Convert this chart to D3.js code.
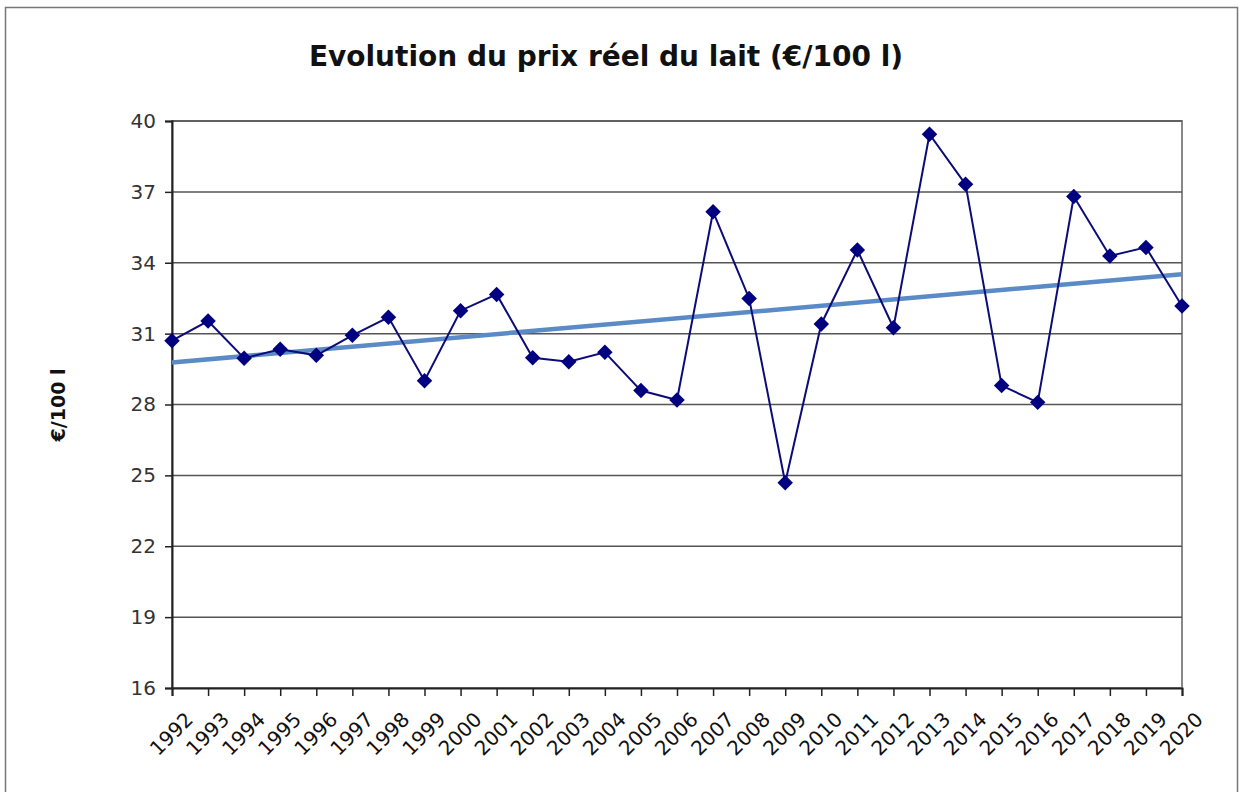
<!DOCTYPE html>
<html>
<head>
<meta charset="utf-8">
<script src="https://cdn.jsdelivr.net/npm/d3@7"></script>
<style>
  html, body { margin: 0; padding: 0; background: #fff; }
  svg { display: block; }
</style>
</head>
<body>
<svg id="chart" width="1243" height="792"></svg>
<script>
const years = [1992,1993,1994,1995,1996,1997,1998,1999,2000,2001,2002,2003,2004,2005,2006,2007,2008,2009,2010,2011,2012,2013,2014,2015,2016,2017,2018,2019,2020];
const prices = [30.70,31.53,29.96,30.34,30.08,30.93,31.69,29.01,31.97,32.66,29.98,29.81,30.21,28.59,28.19,36.16,32.49,24.69,31.41,34.54,31.25,39.44,37.32,28.80,28.09,36.80,34.29,34.65,32.17];
const yTicks = [16,19,22,25,28,31,34,37,40];
const title = "Evolution du prix réel du lait (€/100 l)";
const yLabel = "€/100 l";

const svg = d3.select("#chart");
const plot = {left: 172, right: 1182, top: 121, bottom: 688};
const font = "DejaVu Sans, Verdana, sans-serif";

// outer border
svg.append("rect").attr("x", 5.5).attr("y", 7.5).attr("width", 1232).attr("height", 800)
  .attr("fill", "#fff").attr("stroke", "#777").attr("stroke-width", 1.5);

const x = d3.scalePoint().domain(years).range([plot.left, plot.right]);
const y = d3.scaleLinear().domain([16, 40]).range([plot.bottom, plot.top]);

// plot area border
svg.append("rect").attr("x", plot.left).attr("y", plot.top)
  .attr("width", plot.right - plot.left).attr("height", plot.bottom - plot.top)
  .attr("fill", "none").attr("stroke", "#888").attr("stroke-width", 2);

// gridlines
svg.append("g").selectAll("line").data(yTicks.filter(t => t > 16)).join("line")
  .attr("x1", plot.left).attr("x2", plot.right)
  .attr("y1", d => y(d)).attr("y2", d => y(d))
  .attr("stroke", "#555").attr("stroke-width", 1.5);

// y axis
const yAxis = d3.axisLeft(y).tickValues(yTicks).tickSize(7).tickPadding(9).tickFormat(d3.format("d"));
const gy = svg.append("g").attr("transform", `translate(${plot.left},0)`).call(yAxis);
gy.select(".domain").attr("stroke", "#222").attr("stroke-width", 2);
gy.selectAll(".tick line").attr("stroke", "#222").attr("stroke-width", 1.5);
gy.selectAll(".tick text").attr("font-family", font)
  .attr("font-size", 20).attr("fill", "#333");

// x axis
const xAxis = d3.axisBottom(x).tickSize(8).tickPadding(6);
const gx = svg.append("g").attr("transform", `translate(0,${plot.bottom})`).call(xAxis);
gx.select(".domain").attr("stroke", "#222").attr("stroke-width", 2);
gx.selectAll(".tick line").attr("stroke", "#222").attr("stroke-width", 1.5);
gx.selectAll(".tick text")
  .attr("font-family", font)
  .attr("font-size", 20).attr("fill", "#111")
  .attr("text-anchor", "end").attr("dy", "0.35em")
  .attr("transform", "translate(7,18) rotate(-45)");

// trendline: least squares through data
const n = years.length;
const mx = d3.mean(years), my = d3.mean(prices);
const slope = d3.sum(years, (v, i) => (v - mx) * (prices[i] - my)) / d3.sum(years, v => (v - mx) ** 2);
const icpt = my - slope * mx;
svg.append("line")
  .attr("x1", x(years[0])).attr("y1", y(icpt + slope * years[0]))
  .attr("x2", x(years[n - 1])).attr("y2", y(icpt + slope * years[n - 1]))
  .attr("stroke", "#5b8bc6").attr("stroke-width", 4.5);

// data line
const line = d3.line().x((d, i) => x(years[i])).y(d => y(d));
svg.append("path").datum(prices).attr("d", line)
  .attr("fill", "none").attr("stroke", "#0c0c78").attr("stroke-width", 2);

// diamond markers
const diamond = d3.symbol().type(d3.symbolSquare).size(120);
svg.append("g").selectAll("path").data(prices).join("path")
  .attr("d", diamond)
  .attr("transform", (d, i) => `translate(${x(years[i])},${y(d)}) rotate(45)`)
  .attr("fill", "#000080");

// title
svg.append("text").attr("x", 606).attr("y", 66).attr("text-anchor", "middle")
  .attr("font-family", font).attr("font-weight", "bold")
  .attr("font-size", 28).attr("fill", "#111").text(title);

// y label
svg.append("text").attr("transform", "translate(65,405) rotate(-90)")
  .attr("text-anchor", "middle")
  .attr("font-family", font).attr("font-weight", "bold")
  .attr("font-size", 19).attr("fill", "#111").text(yLabel);
</script>
</body>
</html>
